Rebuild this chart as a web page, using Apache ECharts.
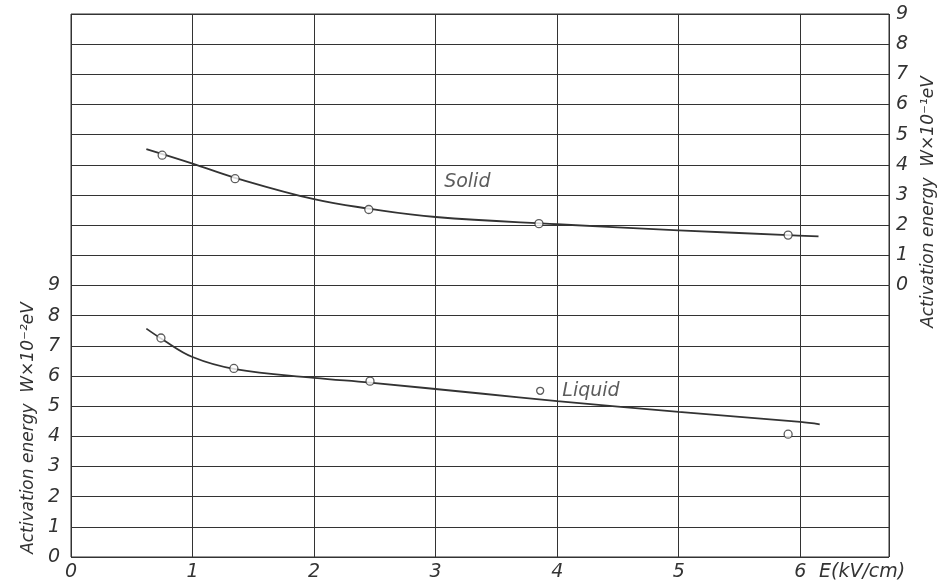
<!DOCTYPE html>
<html>
<head>
<meta charset="utf-8">
<script src="https://cdn.jsdelivr.net/npm/echarts@6/dist/echarts.min.js"></script>
<style>
html,body{margin:0;padding:0;background:#fff;}
#chart{width:941px;height:583px;}
</style>
</head>
<body>
<div id="chart"></div>
<script>
// ---- data ----
const xTicks = [0, 1, 2, 3, 4, 5, 6];
const leftTicks = [0, 1, 2, 3, 4, 5, 6, 7, 8, 9];   // W x 10^-2 eV (Liquid)
const rightTicks = [0, 1, 2, 3, 4, 5, 6, 7, 8, 9];  // W x 10^-1 eV (Solid)

// Solid: measured points (right axis)
const solidE = [0.75, 1.35, 2.45, 3.85, 5.90];
const solidW = [4.32, 3.54, 2.52, 2.05, 1.67];
// Solid: drawn curve
const solidCurveE = [0.62, 1.00, 1.35, 2.00, 2.45, 3.00, 4.00, 5.00, 5.90, 6.15];
const solidCurveW = [4.52, 4.04, 3.57, 2.86, 2.55, 2.27, 2.03, 1.83, 1.67, 1.63];

// Liquid: measured points (left axis)
const liquidE = [0.74, 1.34, 2.46, 5.90];
const liquidW = [7.26, 6.25, 5.83, 4.07];
const liquidMarkE = [3.86];
const liquidMarkW = [5.51];
// Liquid: drawn curve
const liquidCurveE = [0.62, 0.75, 1.00, 1.35, 2.00, 2.46, 3.37, 4.00, 5.00, 6.00, 6.16];
const liquidCurveW = [7.57, 7.22, 6.63, 6.23, 5.94, 5.78, 5.42, 5.17, 4.81, 4.48, 4.40];

// text label anchors
const solidTextE = [3.07];
const solidTextW = [3.43];

const zip = (a, b) => a.map((v, i) => [v, b[i]]);

const INK = '#333333';
const FONT = 'DejaVu Sans';

const chart = echarts.init(document.getElementById('chart'), null, {renderer: 'canvas'});

const labelStyle = {color: INK, fontFamily: FONT, fontStyle: 'italic', fontSize: 19};

const option = {
  backgroundColor: '#ffffff',
  animation: false,
  grid: {left: 71, right: 52, top: 14, bottom: 26, show: true, borderColor: INK, borderWidth: 1},
  xAxis: {
    type: 'value', min: 0, max: 6.73, interval: 1,
    axisLine: {show: false}, axisTick: {show: false},
    splitLine: {show: true, lineStyle: {color: INK, width: 1}},
    axisLabel: Object.assign({}, labelStyle, {
      margin: 6, showMaxLabel: false,
      formatter: v => xTicks.includes(v) ? String(v) : ''
    }),
    name: 'E(kV/cm)', nameLocation: 'end', nameGap: -70,
    nameTextStyle: Object.assign({}, labelStyle, {align: 'left', verticalAlign: 'top', padding: [6, 0, 0, 0]})
  },
  yAxis: [
    {
      type: 'value', min: 0, max: 18, interval: 1, position: 'left',
      axisLine: {show: false}, axisTick: {show: false},
      splitLine: {show: true, lineStyle: {color: INK, width: 1}},
      axisLabel: Object.assign({}, labelStyle, {
        margin: 11,
        formatter: v => leftTicks.includes(v) ? String(v) : ''
      })
    },
    {
      type: 'value', min: -9, max: 9, interval: 1, position: 'right',
      axisLine: {show: false}, axisTick: {show: false},
      splitLine: {show: false},
      axisLabel: Object.assign({}, labelStyle, {
        margin: 7,
        formatter: v => rightTicks.includes(v) ? String(v) : ''
      })
    }
  ],
  series: [
    {
      name: 'Solid curve', type: 'line', yAxisIndex: 1, smooth: 0.4, showSymbol: false,
      data: zip(solidCurveE, solidCurveW), lineStyle: {color: INK, width: 1.8}, z: 3
    },
    {
      name: 'Solid', type: 'scatter', yAxisIndex: 1, symbol: 'circle', symbolSize: 8,
      data: zip(solidE, solidW),
      itemStyle: {color: '#ffffff', borderColor: INK, borderWidth: 1.3}, z: 4
    },
    {
      name: 'Liquid curve', type: 'line', yAxisIndex: 0, smooth: 0.4, showSymbol: false,
      data: zip(liquidCurveE, liquidCurveW), lineStyle: {color: INK, width: 1.8}, z: 3
    },
    {
      name: 'Liquid', type: 'scatter', yAxisIndex: 0, symbol: 'circle', symbolSize: 8,
      data: zip(liquidE, liquidW),
      itemStyle: {color: '#ffffff', borderColor: INK, borderWidth: 1.3}, z: 4
    },
    {
      name: 'Liquid marker', type: 'scatter', yAxisIndex: 0, symbol: 'circle', symbolSize: 7,
      data: zip(liquidMarkE, liquidMarkW),
      itemStyle: {color: '#ffffff', borderColor: INK, borderWidth: 1.3}, z: 4,
      label: Object.assign({}, labelStyle, {show: true, position: 'right', distance: 18, formatter: 'Liquid', textBorderWidth: 0})
    },
    {
      name: 'Solid text', type: 'scatter', yAxisIndex: 1, symbolSize: 0,
      data: zip(solidTextE, solidTextW),
      itemStyle: {color: INK},
      label: Object.assign({}, labelStyle, {show: true, position: 'right', distance: 0, formatter: 'Solid', textBorderWidth: 0}), z: 5
    }
  ],
  graphic: [
    {
      type: 'text', x: 29, y: 428, rotation: Math.PI / 2,
      style: {text: 'Activation energy  W×10⁻²eV', fill: INK, font: 'italic 17px "DejaVu Sans"', align: 'center', verticalAlign: 'middle'}
    },
    {
      type: 'text', x: 929, y: 202, rotation: Math.PI / 2,
      style: {text: 'Activation energy  W×10⁻¹eV', fill: INK, font: 'italic 17px "DejaVu Sans"', align: 'center', verticalAlign: 'middle'}
    }
  ]
};

chart.setOption(option);
</script>
</body>
</html>
